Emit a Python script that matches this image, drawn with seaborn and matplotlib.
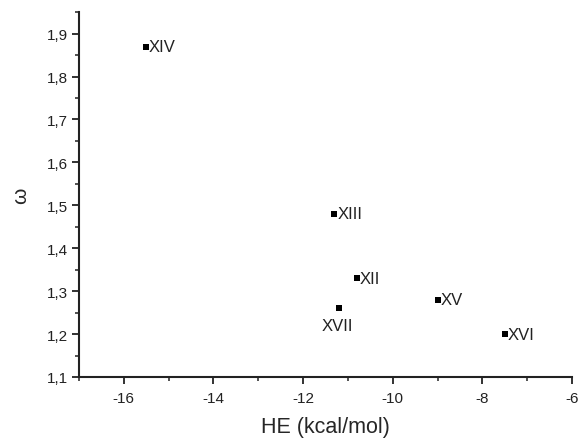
import matplotlib
matplotlib.use("Agg")
import matplotlib.pyplot as plt
import seaborn as sns
import pandas as pd
from matplotlib.ticker import MultipleLocator, FuncFormatter

labels = ["XIV", "XIII", "XII", "XVII", "XV", "XVI"]
he = [-15.5, -11.3, -10.8, -11.2, -9.0, -7.5]
omega = [1.87, 1.48, 1.33, 1.26, 1.28, 1.20]

df = pd.DataFrame({"HE": he, "omega": omega, "label": labels})

sns.set_style("ticks")
plt.rcParams['font.family'] = ['Liberation Sans', 'DejaVu Sans']

fig = plt.figure(figsize=(5.79, 4.39), dpi=100)
ax = fig.add_axes([0.1364, 0.139, 0.8516, 0.831])

sns.scatterplot(data=df, x="HE", y="omega", marker="s", color="black",
                s=24, edgecolor="black", linewidth=0, ax=ax, zorder=3)

for x, y, t in zip(he, omega, labels):
    if t == "XVII":
        ax.annotate(t, (x, y), xytext=(-1, -7), textcoords="offset points",
                    ha="center", va="top", fontsize=12, color="#222222")
    else:
        ax.annotate(t, (x, y), xytext=(2, 0), textcoords="offset points",
                    ha="left", va="center", fontsize=12, color="#222222")

ax.set_xlim(-17, -6)
ax.set_ylim(1.1, 1.95)
ax.xaxis.set_major_locator(MultipleLocator(2))
ax.xaxis.set_minor_locator(MultipleLocator(1))
ax.yaxis.set_major_locator(MultipleLocator(0.1))
ax.yaxis.set_minor_locator(MultipleLocator(0.05))
ax.yaxis.set_major_formatter(FuncFormatter(lambda v, p: f"{v:.1f}".replace(".", ",")))
ax.xaxis.set_major_formatter(FuncFormatter(lambda v, p: f"{int(round(v))}"))

for s in ["top", "right"]:
    ax.spines[s].set_visible(False)
for s in ["left", "bottom"]:
    ax.spines[s].set_linewidth(1.5)
    ax.spines[s].set_color("#222222")

ax.tick_params(which="major", direction="out", length=5, width=1.3, labelsize=11, colors="#222222")
ax.tick_params(axis="x", which="major", pad=5)
ax.tick_params(axis="y", which="major", pad=3)
ax.tick_params(which="minor", direction="out", length=3, width=1.1, colors="#222222")

ax.set_xlabel("HE (kcal/mol)", fontsize=15.5, labelpad=8)
ax.set_ylabel("ω", fontsize=15, labelpad=12)

fig.savefig("out.png", dpi=100)
